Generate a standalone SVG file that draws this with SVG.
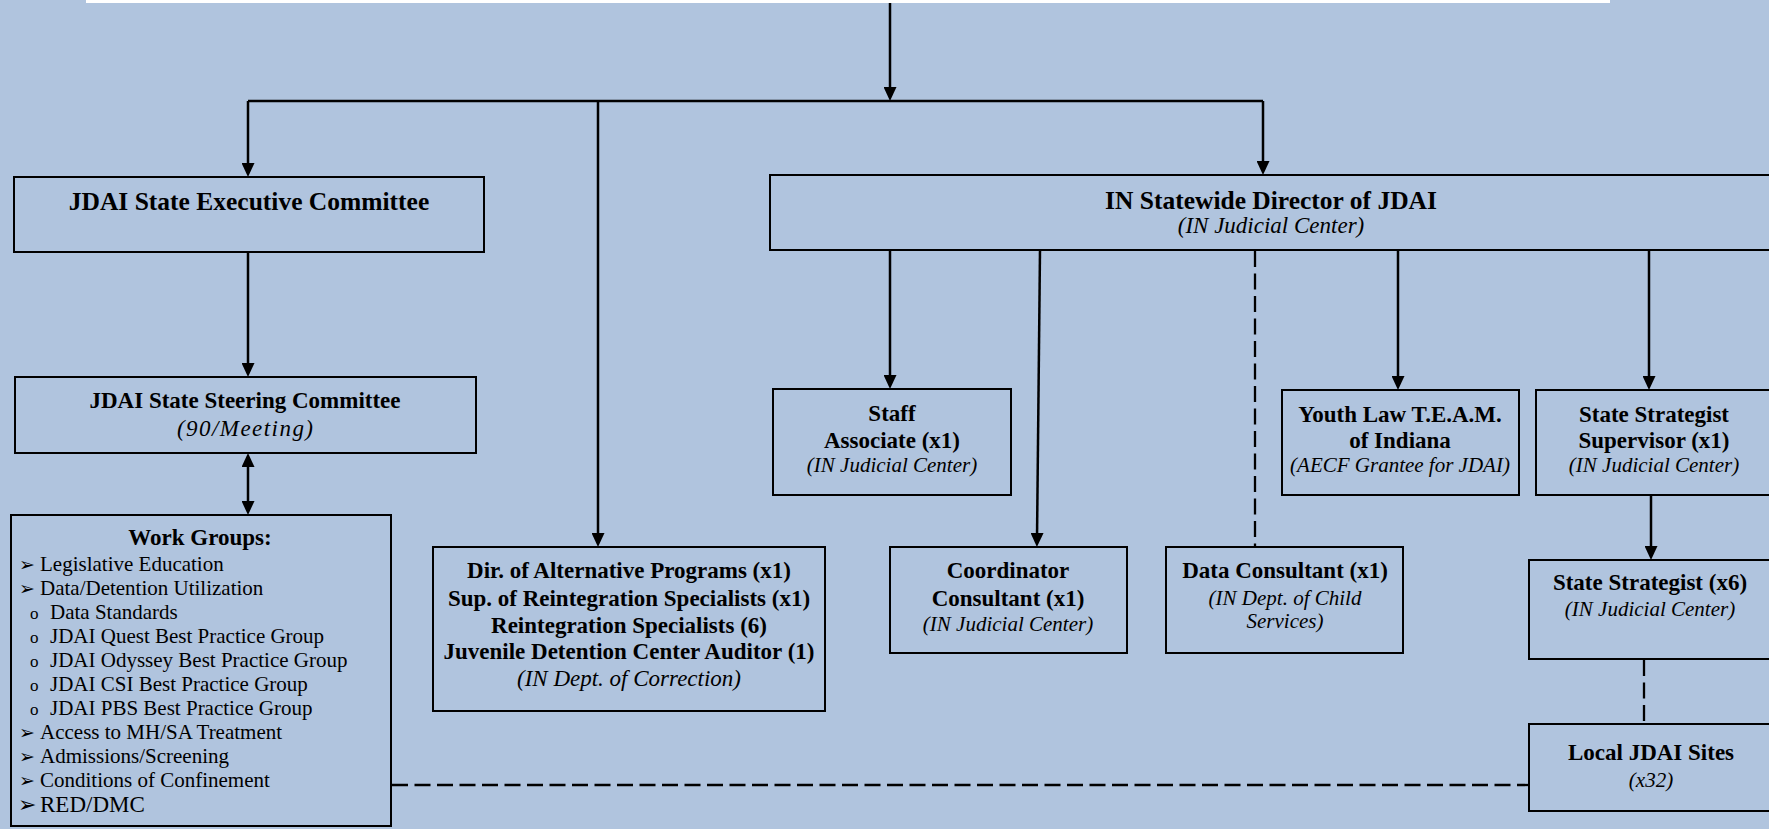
<svg xmlns="http://www.w3.org/2000/svg" width="1769" height="829" viewBox="0 0 1769 829">
<style>
.box{fill:#B0C4DE;stroke:#000;stroke-width:2}
.t{font-family:"Liberation Serif","Times New Roman",serif;fill:#000}
.b{font-weight:bold;font-size:23px;text-anchor:middle}
.h{font-weight:bold;font-size:25.5px;text-anchor:middle}
.i{font-style:italic;font-size:23px;text-anchor:middle}
.si{font-style:italic;font-size:21px;text-anchor:middle}
.w{font-size:21px}
.bul{font-family:"DejaVu Sans",sans-serif;font-size:19px;fill:#000}
.ln{fill:none;stroke:#000;stroke-width:2.5}
.arr{marker-end:url(#ah)}
.dsh{fill:none;stroke:#000;stroke-width:2.3;stroke-dasharray:16 6.5}
</style>
<defs>
<marker id="ah" markerUnits="userSpaceOnUse" markerWidth="14" markerHeight="13" refX="6" refY="6.5" orient="auto-start-reverse" viewBox="0 0 14 13">
<path d="M0,0 L14,6.5 L0,13 z" fill="#000"/>
</marker>
</defs>
<rect x="0" y="0" width="1769" height="829" fill="#B0C4DE"/>
<rect x="86" y="-10" width="1524" height="13" fill="#FFFFFF"/>

<g id="connectors">
<line class="ln arr" x1="890" y1="3" x2="890" y2="93"/>
<polyline class="ln" points="248,101 1263,101"/>
<line class="ln arr" x1="248" y1="101" x2="248" y2="169"/>
<line class="ln arr" x1="598" y1="101" x2="598" y2="539"/>
<line class="ln arr" x1="1263" y1="101" x2="1263" y2="167"/>
<line class="ln arr" x1="248" y1="252" x2="248" y2="369"/>
<line class="ln" x1="248" y1="461" x2="248" y2="507" style="marker-start:url(#ah);marker-end:url(#ah)"/>
<line class="ln arr" x1="890" y1="250" x2="890" y2="381"/>
<line class="ln arr" x1="1040" y1="250" x2="1037" y2="539"/>
<line class="dsh" x1="1255" y1="251" x2="1255" y2="550"/>
<line class="ln arr" x1="1398" y1="250" x2="1398" y2="382"/>
<line class="ln arr" x1="1649" y1="250" x2="1649" y2="382"/>
<line class="ln arr" x1="1651" y1="495" x2="1651" y2="552"/>
<line class="dsh" x1="1644" y1="660" x2="1644" y2="722"/>
<line class="dsh" x1="392" y1="785" x2="1528" y2="785"/>
</g>

<g id="exec">
<rect class="box" x="14" y="177" width="470" height="75"/>
<text class="t h" x="249" y="210">JDAI State Executive Committee</text>
</g>

<g id="director">
<rect class="box" x="770" y="175" width="1020" height="75"/>
<text class="t h" x="1271" y="209">IN Statewide Director of JDAI</text>
<text class="t i" x="1271" y="233">(IN Judicial Center)</text>
</g>

<g id="steering">
<rect class="box" x="15" y="377" width="461" height="76"/>
<text class="t b" x="245" y="408">JDAI State Steering Committee</text>
<text class="t i" x="245" y="436" textLength="136" lengthAdjust="spacing">(90/Meeting)</text>
</g>

<g id="workgroups">
<rect class="box" x="11" y="515" width="380" height="311"/>
<text class="t b" x="200" y="545">Work Groups:</text>
<text class="bul" x="19" y="571">➢</text><text class="t w" x="40" y="571">Legislative Education</text>
<text class="bul" x="19" y="595">➢</text><text class="t w" x="40" y="595">Data/Detention Utilization</text>
<text class="t w" x="30" y="619" style="font-size:17px">o</text><text class="t w" x="50" y="619">Data Standards</text>
<text class="t w" x="30" y="643" style="font-size:17px">o</text><text class="t w" x="50" y="643">JDAI Quest Best Practice Group</text>
<text class="t w" x="30" y="667" style="font-size:17px">o</text><text class="t w" x="50" y="667">JDAI Odyssey Best Practice Group</text>
<text class="t w" x="30" y="691" style="font-size:17px">o</text><text class="t w" x="50" y="691">JDAI CSI Best Practice Group</text>
<text class="t w" x="30" y="715" style="font-size:17px">o</text><text class="t w" x="50" y="715">JDAI PBS Best Practice Group</text>
<text class="bul" x="19" y="739">➢</text><text class="t w" x="40" y="739">Access to MH/SA Treatment</text>
<text class="bul" x="19" y="763">➢</text><text class="t w" x="40" y="763">Admissions/Screening</text>
<text class="bul" x="19" y="787">➢</text><text class="t w" x="40" y="787">Conditions of Confinement</text>
<text class="bul" x="18" y="812" style="font-size:22px">➢</text><text class="t w" x="40" y="812" style="font-size:23px">RED/DMC</text>
</g>

<g id="altprograms">
<rect class="box" x="433" y="547" width="392" height="164"/>
<text class="t b" x="629" y="578">Dir. of Alternative Programs (x1)</text>
<text class="t b" x="629" y="606">Sup. of Reintegration Specialists (x1)</text>
<text class="t b" x="629" y="633">Reintegration Specialists (6)</text>
<text class="t b" x="629" y="659">Juvenile Detention Center Auditor (1)</text>
<text class="t i" x="629" y="686">(IN Dept. of Correction)</text>
</g>

<g id="staff">
<rect class="box" x="773" y="389" width="238" height="106"/>
<text class="t b" x="892" y="421">Staff</text>
<text class="t b" x="892" y="448">Associate (x1)</text>
<text class="t si" x="892" y="472">(IN Judicial Center)</text>
</g>

<g id="coordinator">
<rect class="box" x="890" y="547" width="237" height="106"/>
<text class="t b" x="1008" y="578">Coordinator</text>
<text class="t b" x="1008" y="606">Consultant (x1)</text>
<text class="t si" x="1008" y="631">(IN Judicial Center)</text>
</g>

<g id="dataconsultant">
<rect class="box" x="1166" y="547" width="237" height="106"/>
<text class="t b" x="1285" y="578">Data Consultant (x1)</text>
<text class="t si" x="1285" y="605">(IN Dept. of Child</text>
<text class="t si" x="1285" y="628">Services)</text>
</g>

<g id="youthlaw">
<rect class="box" x="1282" y="390" width="237" height="105"/>
<text class="t b" x="1400" y="422">Youth Law T.E.A.M.</text>
<text class="t b" x="1400" y="448">of Indiana</text>
<text class="t si" x="1400" y="472">(AECF Grantee for JDAI)</text>
</g>

<g id="supervisor">
<rect class="box" x="1536" y="390" width="300" height="105"/>
<text class="t b" x="1654" y="422">State Strategist</text>
<text class="t b" x="1654" y="448">Supervisor (x1)</text>
<text class="t si" x="1654" y="472">(IN Judicial Center)</text>
</g>

<g id="strategist">
<rect class="box" x="1529" y="560" width="300" height="99"/>
<text class="t b" x="1650" y="590">State Strategist (x6)</text>
<text class="t si" x="1650" y="616">(IN Judicial Center)</text>
</g>

<g id="localsites">
<rect class="box" x="1529" y="724" width="300" height="87"/>
<text class="t b" x="1651" y="760">Local JDAI Sites</text>
<text class="t si" x="1651" y="787">(x32)</text>
</g>
</svg>
